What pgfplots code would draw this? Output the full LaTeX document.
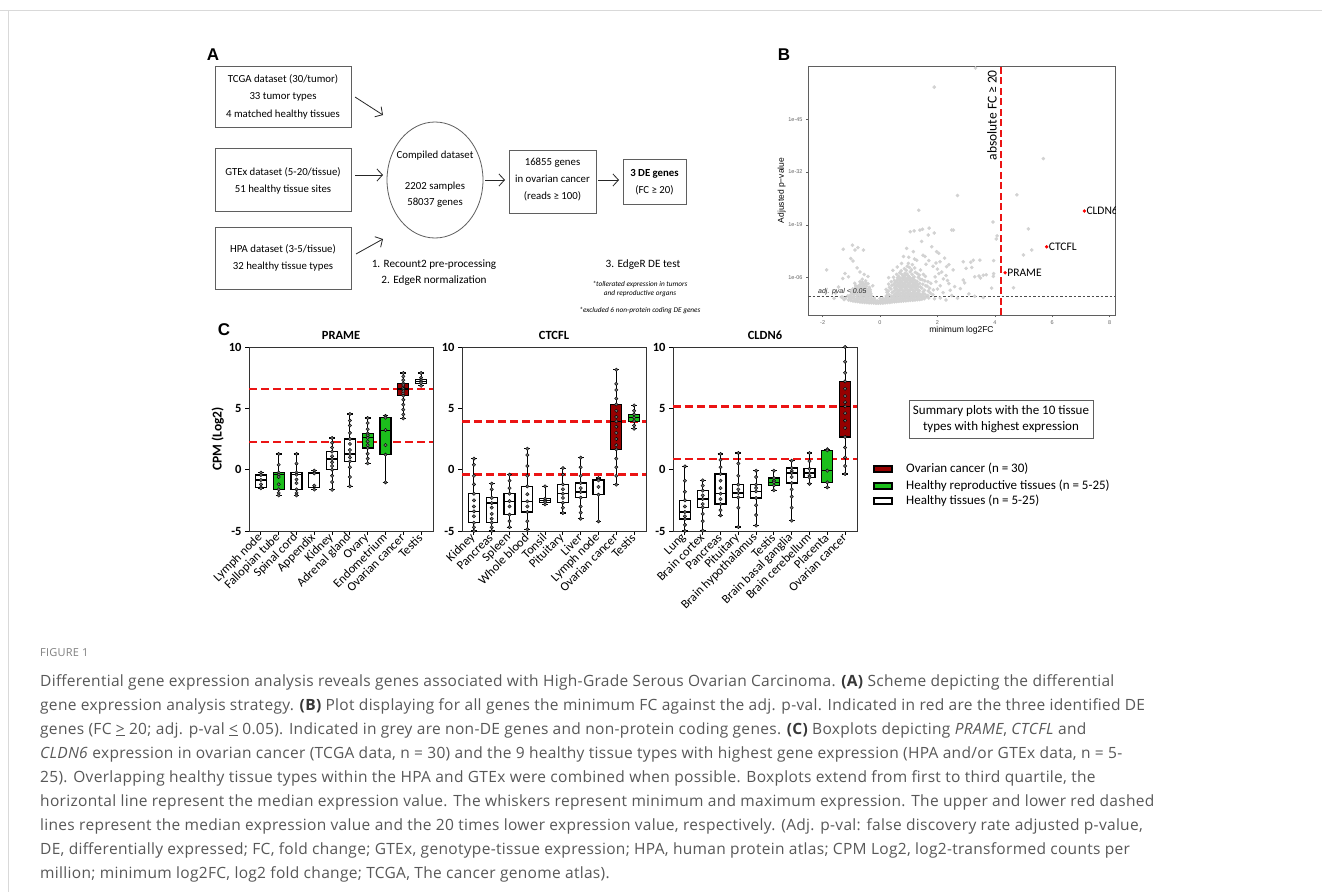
\documentclass[border=0pt]{standalone}
\usepackage{fontspec}
\setmainfont{Carlito}
\newfontfamily\capfont{Open Sans}[LetterSpace=2.0]
\newfontfamily\arialf{Liberation Sans}
\usepackage{pgfplots}
\pgfplotsset{compat=1.18}
\usepgfplotslibrary{statistics}
\usetikzlibrary{arrows.meta}
\definecolor{darkred}{RGB}{150,0,0}
\definecolor{boxgreen}{RGB}{28,190,28}
\definecolor{captext}{RGB}{88,88,88}
\definecolor{capbold}{RGB}{55,55,55}
\definecolor{ptgray}{RGB}{210,210,210}
\definecolor{framegray}{RGB}{95,95,95}
\definecolor{dashred}{RGB}{235,20,20}
\pgfplotsset{
  cpanel/.style={anchor=south west, scale only axis, width=184pt, height=184pt,
    xmin=-0.67, xmax=9.67, ymin=-5, ymax=10,
    xtick={0,1,2,3,4,5,6,7,8,9}, ytick={-5,0,5,10}, yticklabels={-5,0,5,10},
    tick pos=left, tick align=outside, major tick length=4pt,
    tick style={black, line width=0.9pt},
    axis line style={black!80, line width=0.9pt},
    yticklabel style={font=\fontsize{12.5}{13}\selectfont\bfseries},
    xticklabel style={rotate=45, anchor=east, font=\fontsize{12.5}{13}\selectfont, inner sep=1pt},
    title style={font=\fontsize{12.5}{13}\selectfont\bfseries, at={(0.5,1)}, anchor=south, inner sep=1pt},
    boxplot/draw direction=y,
    boxplot/box extend=0.62, boxplot/whisker extend=0.32},
  wbox/.style={draw=black, fill=white, line width=1.1pt, solid, mark=none},
  gbox/.style={draw=black, fill=boxgreen, line width=1.1pt, solid, mark=none},
  rbox/.style={draw=black, fill=darkred, line width=1.1pt, solid, mark=none},
  cdots/.style={only marks, mark=*, mark size=1.7pt, color=black, mark options={fill=black!55, line width=0.4pt}},
  reddash/.style={dashred, line width=2.4pt, dash pattern=on 8pt off 4pt, mark=none},
}
\newcommand{\bx}[7]{\addplot[#1, boxplot prepared={draw position=#2, lower whisker=#3, lower quartile=#4, median=#5, upper quartile=#6, upper whisker=#7}] coordinates {};}
\begin{document}
\begin{tikzpicture}
\useasboundingbox (0,0) rectangle (1322pt,-892pt);
\fill[white] (0,0) rectangle (1322pt,-892pt);
\begin{scope}[x=1pt,y=-1pt]
% page frame
\draw[gray!30, line width=1pt] (0,10) -- (1322,10);
\draw[gray!30, line width=1pt] (8,10) -- (8,892);
% panel letters
\node[font=\arialf\bfseries\fontsize{17}{17}\selectfont] at (213,55) {A};
\node[font=\arialf\bfseries\fontsize{17}{17}\selectfont] at (784,55) {B};
\node[font=\arialf\bfseries\fontsize{17}{17}\selectfont] at (224,330) {C};
% panel A scheme
\begin{scope}[every node/.style={align=center, font=\fontsize{10.8}{17.5}\selectfont}]
\draw[framegray, line width=0.8pt] (215,66) rectangle (351,127);
\node at (283,96.5) {TCGA dataset (30/tumor)\\33 tumor types\\4 matched healthy tissues};
\draw[framegray, line width=0.8pt] (215,148) rectangle (351,211);
\node at (283,181) {GTEx dataset (5-20/tissue)\\51 healthy tissue sites};
\draw[framegray, line width=0.8pt] (215,227) rectangle (351,289);
\node at (283,258) {HPA dataset (3-5/tissue)\\32 healthy tissue types};
\draw[framegray, line width=0.8pt] (435,180) ellipse [x radius=48, y radius=58];
\node at (435,156) {Compiled dataset};
\node[font=\fontsize{10.8}{16}\selectfont] at (435,195) {2202 samples\\58037 genes};
\draw[framegray, line width=0.8pt] (509,150) rectangle (596,213);
\node[font=\fontsize{10.8}{17}\selectfont] at (552.5,180) {16855 genes\\in ovarian cancer\\(reads ≥ 100)};
\draw[framegray, line width=0.8pt] (623,159) rectangle (686,204);
\node at (654.5,182) {\textbf{3 DE genes}\\(FC ≥ 20)};
\node[font=\fontsize{11.2}{16}\selectfont] at (434,273) {1. Recount2 pre-processing\\2. EdgeR normalization};
\node[font=\fontsize{11.2}{16}\selectfont] at (643,265) {3. EdgeR DE test};
\node[font=\fontsize{7.3}{8.5}\selectfont\itshape] at (640,289) {*tollerated expression in tumors\\and reproductive organs};
\node[font=\fontsize{7.3}{8.5}\selectfont\itshape] at (640,311) {*excluded 6 non-protein coding DE genes};
\end{scope}
\begin{scope}[gray!30!black, line width=0.8pt, -{Straight Barb[length=5.5pt,width=12pt]}]
\draw (355,97) -- (383,115);
\draw (355,175) -- (383,175);
\draw (356,254) -- (383,239);
\draw (485,180) -- (505,180);
\draw (598,180) -- (619,180);
\end{scope}
% legend of C
\draw[framegray, line width=0.8pt] (909,400) rectangle (1093,438);
\node[align=center, font=\fontsize{13}{16}\selectfont] at (1001,419) {Summary plots with the 10 tissue\\types with highest expression};
\draw[black, line width=1.4pt, fill=darkred] (874,466) rectangle (892,472);
\draw[black, line width=1.4pt, fill=boxgreen] (874,483) rectangle (892,489);
\draw[black, line width=1.4pt, fill=white] (874,498) rectangle (892,504);
\begin{scope}[every node/.style={anchor=west, font=\fontsize{13}{14}\selectfont, inner sep=0pt}]
\node at (906,469) {Ovarian cancer (n = 30)};
\node at (906,486) {Healthy reproductive tissues (n = 5-25)};
\node at (906,501) {Healthy tissues (n = 5-25)};
\end{scope}
% caption
\begin{scope}[every node/.style={anchor=base west, inner sep=0pt, font=\capfont\fontsize{15.5}{24}\selectfont, text=captext}]
\node[font=\capfont\fontsize{11}{12}\selectfont, text=gray] at (40,656) {FIGURE 1};
\node at (40,686) {Differential gene expression analysis reveals genes associated with High-Grade Serous Ovarian Carcinoma. {\color{capbold}\bfseries(A)} Scheme depicting the differential};
\node at (40,710) {gene expression analysis strategy. {\color{capbold}\bfseries(B)} Plot displaying for all genes the minimum FC against the adj. p-val. Indicated in red are the three identified DE};
\node at (40,734) {genes (FC \underline{>} 20; adj. p-val \underline{<} 0.05). Indicated in grey are non-DE genes and non-protein coding genes. {\color{capbold}\bfseries(C)} Boxplots depicting \textit{PRAME}, \textit{CTCFL} and};
\node at (40,758) {\textit{CLDN6} expression in ovarian cancer (TCGA data, n = 30) and the 9 healthy tissue types with highest gene expression (HPA and/or GTEx data, n = 5-};
\node at (40,782) {25). Overlapping healthy tissue types within the HPA and GTEx were combined when possible. Boxplots extend from first to third quartile, the};
\node at (40,806) {horizontal line represent the median expression value. The whiskers represent minimum and maximum expression. The upper and lower red dashed};
\node at (40,830) {lines represent the median expression value and the 20 times lower expression value, respectively. (Adj. p-val: false discovery rate adjusted p-value,};
\node at (40,854) {DE, differentially expressed; FC, fold change; GTEx, genotype-tissue expression; HPA, human protein atlas; CPM Log2, log2-transformed counts per};
\node at (40,878) {million; minimum log2FC, log2 fold change; TCGA, The cancer genome atlas).};
\end{scope}
\end{scope}

% ---------------- panel B ----------------
\begin{axis}[at={(808pt,-315pt)}, anchor=south west, scale only axis, width=307pt, height=249pt,
  xmin=-2.51, xmax=8.19, ymin=-3.2, ymax=58.1,
  xtick={-2,0,2,4,6,8}, xticklabels={-2,0,2,4,6,8},
  ytick={6,19,32,45}, yticklabels={1e-06,1e-19,1e-32,1e-45},
  tick pos=left, tick align=outside, major tick length=2pt,
  tick style={framegray, line width=0.4pt},
  axis line style={framegray, line width=0.6pt},
  ticklabel style={font=\arialf\fontsize{5.5}{6}\selectfont, text=black!60},
  xlabel={minimum log2FC}, ylabel={Adjusted p−value},
  label style={font=\arialf\fontsize{8.5}{9}\selectfont},
  xlabel style={yshift=5pt}, ylabel style={yshift=-4pt},
  clip=true]
\addplot[only marks, mark=*, mark size=1.6pt, color=ptgray] coordinates {
(-1.10,0.5)(-1.02,0.35)(-0.94,0.25)(-0.86,0.15)(-0.78,0.1)(-0.70,0.0)(-0.62,-0.05)(-0.54,-0.1)(-0.46,-0.15)(-0.38,-0.2)(-0.30,-0.2)(-0.22,-0.25)(-0.14,-0.3)(-0.06,-0.3)(0.02,-0.3)(0.10,-0.25)(0.18,-0.2)(0.26,-0.15)(0.34,-0.1)(0.42,0.0)(0.50,0.05)(0.58,0.1)(0.66,0.15)(0.74,0.2)(0.82,0.25)(0.90,0.3)(0.98,0.35)(1.06,0.4)(1.14,0.45)(1.22,0.5)(1.30,0.55)(1.38,0.6)(1.46,0.7)(1.54,0.8)
(-1.06,1.1)(-0.98,0.95)(-0.90,0.85)(-0.82,0.75)(-0.74,0.7)(-0.66,0.6)(-0.58,0.55)(-0.50,0.5)(-0.42,0.45)(-0.34,0.4)(-0.26,0.4)(-0.18,0.35)(-0.10,0.3)(-0.02,0.3)(0.06,0.3)(0.14,0.35)(0.22,0.4)(0.30,0.45)(0.38,0.5)(0.46,0.6)(0.54,0.65)(0.62,0.7)(0.70,0.75)(0.78,0.8)(0.86,0.85)(0.94,0.9)(1.02,0.95)(1.10,1.0)(1.18,1.05)(1.26,1.1)(1.34,1.2)(1.42,1.3)(1.50,1.4)
(-1.12,1.5)(-1.0,1.4)(-0.9,1.35)(-0.8,1.25)(-0.7,1.2)(-0.6,1.1)(-0.5,1.0)(-0.4,0.95)(-0.3,0.9)(-0.2,0.9)(0.0,0.85)(0.1,0.9)(0.2,0.95)(0.3,1.0)(0.4,1.1)(0.5,1.2)(0.6,1.25)(0.7,1.3)(0.8,1.35)(0.9,1.4)(1.0,1.5)(1.1,1.55)(1.2,1.6)(1.3,1.7)(1.4,1.9)(1.5,2.0)(1.6,1.2)(1.7,1.0)(-1.2,0.9)(-1.3,1.2)(-1.25,0.6)
(-1.05,1.6)(-0.98,2.2)(-0.92,1.8)(-0.88,2.9)(-0.84,2.3)(-0.80,3.4)(-0.78,1.7)(-0.74,2.6)(-0.72,4.1)(-0.70,3.1)(-0.67,2.0)(-0.65,4.8)(-0.63,3.6)(-0.60,2.6)(-0.58,1.8)(-0.56,4.3)(-0.54,3.2)(-0.52,2.2)(-0.50,5.2)(-0.48,3.9)(-0.46,2.7)(-0.44,1.9)(-0.42,4.5)(-0.40,3.3)(-0.38,2.4)(-0.36,1.7)(-0.34,3.0)(-0.32,2.1)(-0.30,1.5)(-0.62,5.6)(-0.70,5.0)(-0.85,4.0)(-0.95,3.2)(-1.00,2.7)(-0.58,2.9)(-0.66,1.5)(-0.45,1.4)(-0.52,1.5)(-0.76,2.1)(-0.68,3.5)
(-0.96,2.6)(-0.90,2.0)(-0.86,3.4)(-0.82,1.9)(-0.76,3.0)(-0.72,2.3)(-0.68,4.4)(-0.64,2.8)(-0.61,3.9)(-0.57,2.3)(-0.55,3.6)(-0.51,2.7)(-0.49,4.6)(-0.47,1.7)(-0.43,3.0)(-0.41,2.1)(-0.37,3.6)(-0.35,2.6)(-0.33,1.9)(-0.60,4.8)(-0.78,3.8)(-0.88,4.6)
(-1.86,7.9)(-1.28,13.0)(-0.96,14.0)(-0.87,12.8)(-0.58,12.8)(-1.02,10.7)(-0.94,10.1)(-1.22,7.0)(-1.10,6.2)(-0.80,8.4)(-0.70,7.4)(-0.55,6.8)(-0.42,6.3)(-1.45,3.7)(-1.30,5.8)(-0.25,4.0)(-1.55,2.2)(-1.35,1.2)(-1.6,0.9)(-0.77,13.4)
(0.22,1.5)(0.24,2.4)(0.21,3.1)(0.31,1.8)(0.29,2.7)(0.33,3.6)(0.30,4.4)(0.40,1.4)(0.42,2.3)(0.38,3.2)(0.41,4.1)(0.39,5.0)
(0.49,1.7)(0.47,2.6)(0.51,3.5)(0.48,4.4)(0.50,5.3)(0.47,6.1)(0.58,1.5)(0.60,2.4)(0.56,3.3)(0.59,4.2)(0.57,5.1)(0.61,6.0)(0.58,6.8)
(0.67,1.8)(0.65,2.7)(0.69,3.6)(0.66,4.5)(0.68,5.4)(0.65,6.3)(0.69,7.2)(0.76,1.4)(0.78,2.3)(0.74,3.2)(0.77,4.1)(0.75,5.0)(0.79,5.9)(0.76,6.8)(0.74,7.7)
(0.85,1.7)(0.83,2.6)(0.87,3.5)(0.84,4.4)(0.86,5.3)(0.83,6.2)(0.87,7.1)(0.85,8.2)(0.94,1.5)(0.96,2.4)(0.92,3.3)(0.95,4.2)(0.93,5.1)(0.97,6.0)(0.94,6.9)(0.92,7.8)(0.95,8.8)
(1.03,1.8)(1.01,2.7)(1.05,3.6)(1.02,4.5)(1.04,5.4)(1.01,6.3)(1.05,7.4)(1.03,8.5)(1.12,1.4)(1.14,2.3)(1.10,3.2)(1.13,4.1)(1.11,5.0)(1.15,5.9)(1.12,6.8)(1.10,7.9)(1.13,9.2)
(1.21,1.7)(1.19,2.6)(1.23,3.5)(1.20,4.4)(1.22,5.3)(1.19,6.2)(1.23,7.3)(1.21,8.4)(1.30,1.5)(1.32,2.4)(1.28,3.3)(1.31,4.2)(1.29,5.1)(1.33,6.1)(1.30,7.0)
(1.39,1.8)(1.37,2.8)(1.41,3.7)(1.38,4.6)(1.40,5.6)(1.37,6.6)(1.41,7.9)(1.48,1.5)(1.50,2.5)(1.46,3.4)(1.49,4.4)(1.47,5.5)(1.51,6.8)
(1.57,1.9)(1.55,2.9)(1.59,4.0)(1.56,5.2)(1.58,6.3)(1.66,1.6)(1.68,2.7)(1.64,3.9)(1.67,5.0)(1.75,2.2)(1.73,3.4)(1.77,4.6)(1.84,1.8)(1.86,3.0)
(0.53,2.05)(0.53,2.95)(0.53,3.85)(0.53,4.75)(0.62,2.1)(0.62,3.0)(0.62,3.9)(0.62,4.8)(0.62,5.6)(0.71,2.2)(0.71,3.1)(0.71,4.0)(0.71,4.9)(0.71,5.8)(0.80,1.9)(0.80,2.8)(0.80,3.7)(0.80,4.6)(0.80,5.5)(0.80,6.4)
(0.89,2.1)(0.89,3.0)(0.89,3.9)(0.89,4.8)(0.89,5.7)(0.89,6.6)(0.98,1.95)(0.98,2.85)(0.98,3.75)(0.98,4.65)(0.98,5.55)(0.98,6.45)(1.07,2.2)(1.07,3.1)(1.07,4.0)(1.07,4.9)(1.07,5.8)
(1.16,1.9)(1.16,2.8)(1.16,3.7)(1.16,4.6)(1.16,5.5)(1.25,2.1)(1.25,3.0)(1.25,3.9)(1.25,4.8)(1.34,1.95)(1.34,2.9)(1.34,3.8)
(1.05,17.3)(1.39,17.7)(1.68,16.5)(1.45,14.9)(0.93,13.2)(1.16,12.4)(1.80,13.6)(1.97,12.4)(1.57,11.2)(1.28,10.3)(2.09,9.9)(2.32,8.7)(2.50,17.7)(0.82,11.2)(0.99,9.5)
(1.19,17.5)(1.48,17.9)(1.71,18.2)(1.89,17.0)(1.35,22.6)(2.56,17.7)(2.70,26.2)(1.89,52.9)(3.33,57.6)(3.94,19.7)(4.08,16.3)(4.05,15.5)(5.69,35.3)(4.77,26.4)(5.17,18.0)(5.29,12.8)(5.0,11.6)(4.65,3.5)(3.96,10.2)(3.96,7.0)(3.16,9.8)
(2.9,9.9)(3.25,10.3)(3.48,10.3)(3.0,8.3)(3.2,8.5)(3.6,6.6)(3.45,6.4)(2.9,5.4)(2.95,4.7)(3.95,6.3)(3.89,3.4)(2.21,5.7)(2.4,4.5)(2.6,3.8)(2.8,3.3)(2.1,4.0)(2.0,3.2)(1.95,5.0)(2.2,2.3)(2.5,1.6)(3.1,2.0)(3.3,1.4)(3.6,1.1)(2.05,7.0)(2.3,6.5)(3.3,6.2)(3.7,6.7)(3.5,5.9)
(1.9,0.8)(2.1,1.0)(2.3,0.5)(2.7,0.9)(1.92,6.2)(2.0,8.1)(2.15,7.4)(2.35,5.3)(2.45,2.9)(2.55,7.9)(1.95,9.6)(2.25,10.8)(2.05,12.0)(1.7,10.2)(1.5,11.5)(1.2,10.6)(1.0,11.0)(0.75,9.5)(0.6,8.6)(0.45,7.8)(0.3,6.0)(1.6,9.3)(1.85,8.8)(2.4,9.2)
};
\addplot[black!70, line width=0.6pt, dash pattern=on 2.5pt off 2pt, mark=none] coordinates {(-2.51,1.3) (8.19,1.3)};
\addplot[dashred, line width=2.2pt, dash pattern=on 7pt off 3.5pt, mark=none] coordinates {(4.22,-3.2) (4.22,58.1)};
\addplot[only marks, mark=*, mark size=1.5pt, color=red] coordinates {(4.36,7.2) (5.81,13.6) (7.12,22.4)};
\node[anchor=west, inner sep=2pt, font=\fontsize{11.5}{12}\selectfont] at (axis cs:4.36,7.2) {PRAME};
\node[anchor=west, inner sep=2pt, font=\fontsize{11.5}{12}\selectfont] at (axis cs:5.81,13.6) {CTCFL};
\node[anchor=west, inner sep=2pt, font=\fontsize{11.5}{12}\selectfont] at (axis cs:7.12,22.4) {CLDN6};
\node[rotate=90, font=\fontsize{13.5}{14}\selectfont] at (axis cs:3.9,46) {absolute FC ≥ 20};
\end{axis}
\node[anchor=south west, inner sep=1pt, text=black!85, font=\arialf\itshape\fontsize{7}{7}\selectfont] at (817pt,-296.6pt) {adj. pval < 0.05};

% ---------------- panel C: PRAME ----------------
\begin{axis}[cpanel, at={(249pt,-531pt)}, title={PRAME},
  ylabel={CPM (Log2)}, ylabel style={font=\fontsize{13.5}{14}\selectfont\bfseries, yshift=-2pt},
  xticklabels={Lymph node,Fallopian tube,Spinal cord,Appendix,Kidney,Adrenal gland,Ovary,Endometrium,Ovarian cancer,Testis}]
\addplot[reddash] coordinates {(-0.67,6.6) (9.67,6.6)};
\addplot[reddash] coordinates {(-0.67,2.28) (9.67,2.28)};
\bx{wbox}{0}{-1.52}{-1.44}{-0.84}{-0.43}{-0.24}
\bx{gbox}{1}{-2.1}{-1.6}{-0.41}{-0.24}{1.28}
\bx{wbox}{2}{-2.1}{-1.6}{-0.41}{-0.24}{1.28}
\bx{wbox}{3}{-1.62}{-1.44}{-0.3}{-0.24}{-0.08}
\bx{wbox}{4}{-1.64}{0}{0.87}{1.47}{2.58}
\bx{wbox}{5}{-1.36}{0.68}{1.28}{2.5}{4.54}
\bx{gbox}{6}{0.52}{1.77}{2.6}{2.96}{4.21}
\bx{gbox}{7}{-1.03}{1.22}{3.23}{4.24}{4.38}
\bx{rbox}{8}{4.18}{6.03}{6.58}{7.04}{7.88}
\bx{wbox}{9}{6.84}{7.06}{7.2}{7.34}{7.88}
\addplot[cdots] coordinates {
(0,-0.24)(0,-0.43)(0,-0.84)(0,-1.2)(0,-1.44)(0,-1.52)
(1,1.28)(1,0.4)(1,-0.24)(1,-0.41)(1,-0.6)(1,-1.2)(1,-1.6)(1,-1.9)(1,-2.1)
(2,1.28)(2,0.5)(2,-0.24)(2,-0.41)(2,-0.8)(2,-1.1)(2,-1.6)(2,-1.9)(2,-2.1)
(3,-0.08)(3,-0.24)(3,-0.3)(3,-1.3)(3,-1.62)
(4,2.58)(4,2.2)(4,1.8)(4,1.47)(4,1.1)(4,0.87)(4,0.6)(4,0.3)(4,0)(4,-0.5)(4,-1.0)(4,-1.64)
(5,4.54)(5,4.0)(5,3.6)(5,3.0)(5,2.5)(5,2.1)(5,1.6)(5,1.28)(5,1.0)(5,0.68)(5,0.2)(5,-0.6)(5,-1.36)
(6,4.21)(6,3.8)(6,3.3)(6,2.96)(6,2.8)(6,2.6)(6,2.3)(6,2.0)(6,1.77)(6,1.3)(6,0.9)(6,0.52)
(7,4.38)(7,4.24)(7,3.23)(7,2.0)(7,1.22)(7,-1.03)
(8,7.88)(8,7.6)(8,7.3)(8,7.04)(8,6.9)(8,6.7)(8,6.58)(8,6.4)(8,6.2)(8,6.03)(8,5.7)(8,5.3)(8,4.9)(8,4.5)(8,4.18)
(9,7.88)(9,7.5)(9,7.34)(9,7.2)(9,7.06)(9,6.84)};
\end{axis}

% ---------------- panel C: CTCFL ----------------
\begin{axis}[cpanel, at={(462pt,-531pt)}, title={CTCFL},
  xticklabels={Kidney,Pancreas,Spleen,Whole blood,Tonsil,Pituitary,Liver,Lymph node,Ovarian cancer,Testis}]
\addplot[reddash] coordinates {(-0.67,3.92) (9.67,3.92)};
\addplot[reddash] coordinates {(-0.67,-0.4) (9.67,-0.4)};
\bx{wbox}{0}{-5}{-4.32}{-3.4}{-1.96}{0.9}
\bx{wbox}{1}{-5}{-4.32}{-2.72}{-2.3}{-1.14}
\bx{wbox}{2}{-4.68}{-3.67}{-2.56}{-1.96}{-0.41}
\bx{wbox}{3}{-4.86}{-3.45}{-2.58}{-1.36}{1.71}
\bx{wbox}{4}{-2.83}{-2.64}{-2.5}{-2.37}{-1.36}
\bx{wbox}{5}{-3.53}{-2.69}{-1.96}{-1.2}{0.13}
\bx{wbox}{6}{-4.0}{-2.28}{-1.82}{-1.09}{0.98}
\bx{wbox}{7}{-4.21}{-2.04}{-0.87}{-0.82}{-0.68}
\bx{rbox}{8}{-1.22}{1.65}{3.94}{5.32}{8.15}
\bx{gbox}{9}{3.34}{3.96}{4.24}{4.51}{5.24}
\addplot[cdots] coordinates {
(0,0.9)(0,0.4)(0,-0.5)(0,-1.2)(0,-1.96)(0,-2.5)(0,-3.0)(0,-3.4)(0,-3.8)(0,-4.32)(0,-4.7)(0,-5.0)
(1,-1.14)(1,-1.6)(1,-2.3)(1,-2.72)(1,-3.1)(1,-3.6)(1,-4.0)(1,-4.32)(1,-4.7)(1,-5.0)
(2,-0.41)(2,-0.9)(2,-1.5)(2,-1.96)(2,-2.56)(2,-3.0)(2,-3.67)(2,-4.2)(2,-4.68)
(3,1.71)(3,1.2)(3,0.3)(3,-0.5)(3,-1.36)(3,-2.0)(3,-2.58)(3,-3.0)(3,-3.45)(3,-4.2)(3,-4.86)
(4,-1.36)(4,-2.37)(4,-2.5)(4,-2.64)(4,-2.83)
(5,0.13)(5,-0.4)(5,-1.2)(5,-1.6)(5,-1.96)(5,-2.3)(5,-2.69)(5,-3.1)(5,-3.53)
(6,0.98)(6,0.2)(6,-0.5)(6,-1.09)(6,-1.5)(6,-1.82)(6,-2.28)(6,-3.0)(6,-3.5)(6,-4.0)
(7,-0.68)(7,-0.82)(7,-0.87)(7,-1.4)(7,-2.04)(7,-4.21)
(8,8.15)(8,7.0)(8,6.5)(8,5.8)(8,5.32)(8,4.8)(8,4.3)(8,3.94)(8,3.5)(8,3.0)(8,2.5)(8,2.0)(8,1.65)(8,0.9)(8,0.2)(8,-0.5)(8,-1.22)
(9,5.24)(9,4.8)(9,4.51)(9,4.24)(9,3.96)(9,3.6)(9,3.34)};
\end{axis}

% ---------------- panel C: CLDN6 ----------------
\begin{axis}[cpanel, at={(673pt,-531pt)}, title={CLDN6},
  xticklabels={Lung,Brain cortex,Pancreas,Pituitary,Brain hypothalamus,Testis,Brain basal ganglia,Brain cerebellum,Placenta,Ovarian cancer}]
\addplot[reddash] coordinates {(-0.67,5.16) (9.67,5.16)};
\addplot[reddash] coordinates {(-0.67,0.86) (9.67,0.86)};
\bx{wbox}{0}{-5}{-4.02}{-3.45}{-2.5}{0.27}
\bx{wbox}{1}{-4.97}{-3.07}{-2.39}{-1.71}{-0.87}
\bx{wbox}{2}{-3.72}{-2.8}{-1.96}{-0.35}{1.28}
\bx{wbox}{3}{-4.67}{-2.26}{-1.9}{-1.22}{1.36}
\bx{wbox}{4}{-4.56}{-2.31}{-1.77}{-1.22}{-0.08}
\bx{gbox}{5}{-1.68}{-1.28}{-1.03}{-0.68}{-0.08}
\bx{wbox}{6}{-4.16}{-1.09}{-0.27}{0.14}{0.73}
\bx{wbox}{7}{-1.15}{-0.63}{-0.27}{0.06}{1.36}
\bx{gbox}{8}{-1.44}{-1.03}{-0.08}{1.58}{1.67}
\bx{rbox}{9}{-0.35}{2.66}{5.16}{7.2}{10}
\addplot[cdots] coordinates {
(0,0.27)(0,-0.9)(0,-1.8)(0,-2.5)(0,-3.0)(0,-3.45)(0,-3.8)(0,-4.02)(0,-4.5)(0,-5.0)
(1,-0.87)(1,-1.3)(1,-1.71)(1,-2.1)(1,-2.39)(1,-2.8)(1,-3.07)(1,-3.6)(1,-4.2)(1,-4.97)
(2,1.28)(2,0.8)(2,0.2)(2,-0.35)(2,-0.9)(2,-1.5)(2,-1.96)(2,-2.4)(2,-2.8)(2,-3.3)(2,-3.72)
(3,1.36)(3,0.5)(3,-0.5)(3,-1.22)(3,-1.6)(3,-1.9)(3,-2.26)(3,-3.1)(3,-4.67)
(4,-0.08)(4,-0.6)(4,-1.22)(4,-1.5)(4,-1.77)(4,-2.31)(4,-2.9)(4,-3.7)(4,-4.56)
(5,-0.08)(5,-0.68)(5,-0.9)(5,-1.03)(5,-1.28)(5,-1.68)
(6,0.73)(6,0.14)(6,-0.1)(6,-0.27)(6,-0.6)(6,-1.09)(6,-1.6)(6,-2.2)(6,-3.1)(6,-4.16)
(7,1.36)(7,0.7)(7,0.06)(7,-0.27)(7,-0.5)(7,-0.63)(7,-1.15)
(8,1.67)(8,1.58)(8,-0.08)(8,-1.03)(8,-1.44)
(9,10)(9,8.8)(9,7.9)(9,7.2)(9,6.6)(9,6.0)(9,5.5)(9,5.16)(9,4.6)(9,4.0)(9,3.4)(9,2.66)(9,1.8)(9,1.0)(9,0.3)(9,-0.35)};
\end{axis}
\end{tikzpicture}
\end{document}
